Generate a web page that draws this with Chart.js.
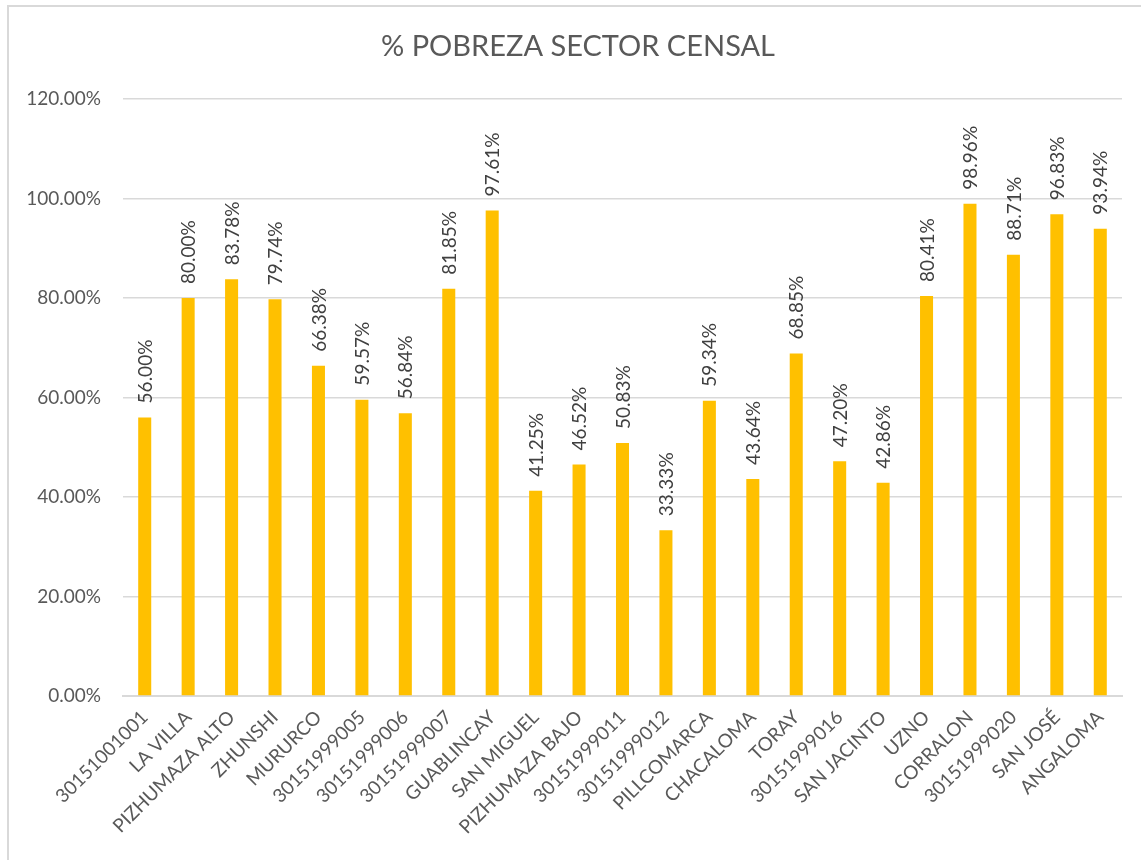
<!DOCTYPE html>
<html>
<head>
<meta charset="utf-8">
<script src="https://cdn.jsdelivr.net/npm/chart.js@4.4.1/dist/chart.umd.min.js"></script>
<style>
  html, body { margin: 0; padding: 0; background: #fff; overflow: hidden; }
  .frame {
    position: absolute; left: 7px; top: 5px; width: 1200px; height: 900px;
    border-left: 2px solid #d9d9d9; border-top: 2px solid #d9d9d9;
  }
  #chart { position: absolute; left: 0; top: 0; }
</style>
</head>
<body>
<div class="frame"></div>
<canvas id="chart" width="1141" height="860"></canvas>
<script>
// Sector names and poverty percentages
const sectors = ['30151001001', 'LA VILLA', 'PIZHUMAZA ALTO', 'ZHUNSHI', 'MURURCO',
    '30151999005', '30151999006', '30151999007', 'GUABLINCAY', 'SAN MIGUEL',
    'PIZHUMAZA BAJO', '30151999011', '30151999012', 'PILLCOMARCA', 'CHACALOMA',
    'TORAY', '30151999016', 'SAN JACINTO', 'UZNO', 'CORRALON', '30151999020',
    'SAN JOSÉ', 'ANGALOMA'];
const pobreza = [56.00, 80.00, 83.78, 79.74, 66.38, 59.57, 56.84, 81.85, 97.61, 41.25,
    46.52, 50.83, 33.33, 59.34, 43.64, 68.85, 47.20, 42.86, 80.41, 98.96, 88.71,
    96.83, 93.94];
const yTicks = [0, 20, 40, 60, 80, 100, 120];
const chartTitle = '% POBREZA SECTOR CENSAL';

const FONT = 'Lato, "Open Sans", sans-serif';

// vertical value labels above each bar, plus the title
// (title drawn by hand because in the original it sits a bit right of centre)
const barLabels = {
    id: 'barLabels',
    afterDatasetsDraw(chart) {
        const ctx = chart.ctx;
        const meta = chart.getDatasetMeta(0);
        ctx.save();
        ctx.fillStyle = '#404040';
        ctx.font = '19px ' + FONT;
        ctx.textAlign = 'left';
        ctx.textBaseline = 'middle';
        meta.data.forEach((bar, i) => {
            ctx.save();
            ctx.translate(bar.x + 1, bar.y - 14);
            ctx.rotate(-Math.PI / 2);
            ctx.fillText(pobreza[i].toFixed(2) + '%', 0, 0);
            ctx.restore();
        });

        ctx.fillStyle = '#595959';
        ctx.font = '29px ' + FONT;
        ctx.textAlign = 'center';
        ctx.fillText(chartTitle, 578, 47);
        ctx.restore();
    }
};

new Chart(document.getElementById('chart'), {
    type: 'bar',
    data: {
        labels: sectors,
        datasets: [{
            data: pobreza,
            backgroundColor: '#FFC000',
            barPercentage: 0.3,
            categoryPercentage: 1
        }]
    },
    options: {
        responsive: false,
        animation: false,
        layout: { padding: { left: 0, right: 19, top: 99, bottom: 0 } },
        plugins: {
            legend: { display: false },
            tooltip: { enabled: false },
            title: { display: false }
        },
        scales: {
            x: {
                grid: { display: false, drawTicks: false },
                border: { display: true, color: '#d9d9d9', width: 2 },
                ticks: {
                    color: '#595959',
                    font: { family: FONT, size: 19 },
                    minRotation: 45,
                    maxRotation: 45,
                    autoSkip: false,
                    padding: 10
                },
                afterFit: function(scale) { scale.height = 164; }
            },
            y: {
                min: 0,
                max: 120,
                afterBuildTicks: function(scale) {
                    scale.ticks = yTicks.map(v => ({ value: v }));
                },
                grid: { color: '#d9d9d9', lineWidth: 1.5, drawTicks: false },
                border: { display: false },
                ticks: {
                    color: '#595959',
                    font: { family: FONT, size: 19 },
                    padding: 22,
                    callback: function(v) { return v.toFixed(2) + '%'; }
                },
                afterFit: function(scale) { scale.width = 123; }
            }
        }
    },
    plugins: [barLabels]
});
</script>
</body>
</html>
